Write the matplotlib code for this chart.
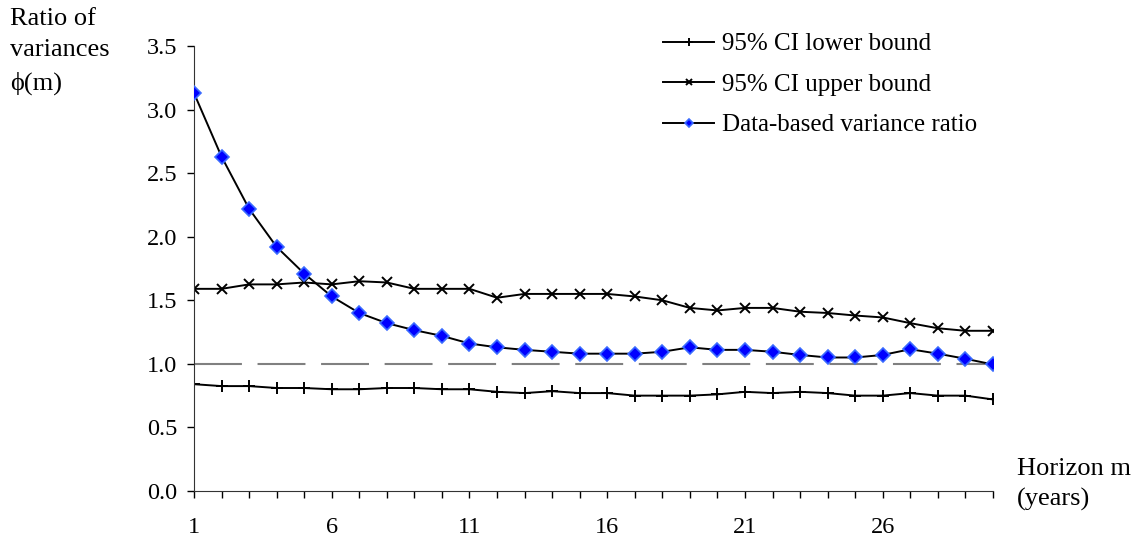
import numpy as np
import matplotlib
matplotlib.use('Agg')
import matplotlib.pyplot as plt

plt.rcParams['font.family'] = ['Liberation Serif', 'DejaVu Serif']
plt.rcParams['font.size'] = 17.5

# Horizon m (years)
horizon = np.arange(1, 31)
lower = [0.84, 0.825, 0.825, 0.81, 0.81, 0.80, 0.80, 0.81, 0.81, 0.80,
         0.80, 0.78, 0.77, 0.785, 0.77, 0.77, 0.75, 0.75, 0.75, 0.76,
         0.78, 0.77, 0.78, 0.77, 0.75, 0.75, 0.77, 0.75, 0.75, 0.72]
upper = [1.59, 1.59, 1.625, 1.625, 1.64, 1.625, 1.65, 1.64, 1.59, 1.59,
         1.59, 1.52, 1.55, 1.55, 1.55, 1.55, 1.53, 1.50, 1.44, 1.42,
         1.44, 1.44, 1.41, 1.40, 1.38, 1.365, 1.32, 1.28, 1.26, 1.26]
ratio = [3.13, 2.63, 2.22, 1.92, 1.71, 1.53, 1.40, 1.32, 1.265, 1.22,
         1.16, 1.13, 1.11, 1.095, 1.08, 1.08, 1.08, 1.095, 1.13, 1.11,
         1.11, 1.095, 1.07, 1.05, 1.05, 1.07, 1.115, 1.08, 1.04, 0.995]
xtick_labels = [1, 6, 11, 16, 21, 26]

fig = plt.figure(figsize=(11.39, 5.37), dpi=100)
ax = fig.add_axes([0.1703, 0.0857, 0.7015, 0.8286])

# reference line at 1
ax.plot([horizon[0], horizon[-1]], [1.0, 1.0], color='#808080', lw=1.5,
        linestyle=(0, (23, 7.5)), zorder=1)

ax.plot(horizon, lower, color='black', lw=1.4, marker='+', markersize=9,
        markeredgewidth=1.4, label='95% CI lower bound', zorder=2)
ax.plot(horizon, upper, color='black', lw=1.4, marker='x', markersize=7,
        markeredgewidth=1.4, label='95% CI upper bound', zorder=2)
ax.plot(horizon, ratio, color='black', lw=1.4, marker='D', markersize=7.5,
        markerfacecolor='#0000ff', markeredgecolor='#3a6bff',
        markeredgewidth=1.2, label='Data-based variance ratio', zorder=3)

ax.set_xlim(1, 30)
ax.set_ylim(0, 3.5)
ax.set_xticks(horizon, minor=True)
ax.set_xticks(xtick_labels)
ax.set_yticks(np.arange(0, 3.51, 0.5))
ax.set_yticklabels(['%.1f' % v for v in np.arange(0, 3.51, 0.5)])
ax.tick_params(axis='x', which='both', direction='out', length=5, width=1, pad=14)
ax.tick_params(axis='y', direction='out', length=5, width=1, pad=7)
for s in ['top', 'right']:
    ax.spines[s].set_visible(False)
for s in ['left', 'bottom']:
    ax.spines[s].set_color('#333333')

fig.text(0.009, 0.985, 'Ratio of\nvariances\nϕ(m)', ha='left', va='top',
         linespacing=1.55, fontsize=19)
fig.text(0.893, 0.148, 'Horizon m\n(years)', ha='left', va='top',
         linespacing=1.45, fontsize=19)

leg = ax.legend(loc='upper left', bbox_to_anchor=(0.559, 1.08), frameon=False,
                handlelength=2.05, handletextpad=0.3, labelspacing=0.72,
                markerscale=0.6, fontsize=18)

fig.savefig('out.png', dpi=100)
